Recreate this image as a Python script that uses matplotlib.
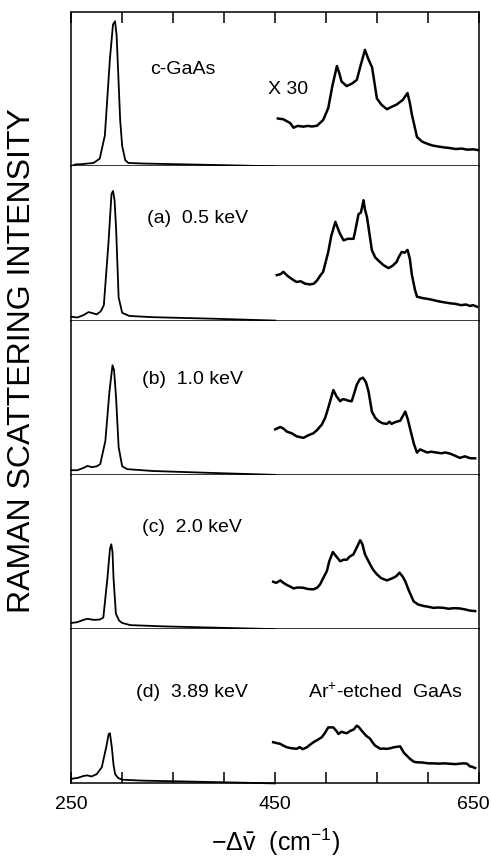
import matplotlib
matplotlib.use('Agg')
import matplotlib.pyplot as plt
from matplotlib.transforms import ScaledTranslation

plt.rcParams['font.family'] = ['Liberation Sans', 'DejaVu Sans']
plt.rcParams['mathtext.fontset'] = 'custom'
plt.rcParams['mathtext.rm'] = 'Liberation Sans'
plt.rcParams['mathtext.it'] = 'Liberation Sans:italic'

# panel labels, top to bottom
labels = ['c-GaAs', '(a)  0.5 keV', '(b)  1.0 keV', '(c)  2.0 keV', '(d)  3.89 keV']

# first-order peak region (250-450 cm-1), normalised to panel height
peak_x = [
    [250, 254, 262, 272, 278, 283, 288, 291, 293, 294.5, 296, 298, 300, 303, 306, 320, 380, 450],
    [250, 256, 262, 267, 270, 275, 279, 282, 286.5, 289.5, 291, 292.5, 294, 296.5, 300, 307, 330, 390, 450],
    [250, 256, 262, 266, 270, 275, 278.5, 283.5, 287.5, 290.5, 292, 294, 296.5, 300, 305, 330, 390, 450],
    [250, 256, 262, 266, 272, 278, 281.5, 285.5, 288, 289.3, 290.5, 291.5, 293.8, 297, 300, 308, 340, 400, 450],
    [250, 256, 262, 265.5, 270, 275, 280, 284.3, 286.8, 288, 289.9, 291.5, 293.1, 296, 300, 320, 380, 450],
]
peak_y = [
    [0, 0.012, 0.015, 0.022, 0.05, 0.2, 0.7, 0.92, 0.94, 0.85, 0.62, 0.3, 0.13, 0.04, 0.022, 0.018, 0.01, 0],
    [0.025, 0.02, 0.035, 0.055, 0.05, 0.04, 0.06, 0.1, 0.5, 0.82, 0.84, 0.78, 0.6, 0.15, 0.05, 0.03, 0.022, 0.012, 0],
    [0.03, 0.03, 0.045, 0.058, 0.05, 0.055, 0.07, 0.22, 0.54, 0.71, 0.68, 0.5, 0.18, 0.055, 0.037, 0.025, 0.012, 0],
    [0.04, 0.045, 0.06, 0.067, 0.06, 0.062, 0.075, 0.33, 0.52, 0.55, 0.5, 0.33, 0.1, 0.055, 0.04, 0.026, 0.018, 0.008, 0],
    [0.03, 0.035, 0.048, 0.052, 0.045, 0.06, 0.105, 0.234, 0.32, 0.325, 0.23, 0.12, 0.06, 0.035, 0.024, 0.018, 0.01, 0],
]

# second-order region (450-650 cm-1), x 30
x30_x = [
    [452.6, 458, 464.7, 468, 472, 477.5, 482, 486, 491, 497, 502, 506, 510.5, 513, 515, 520, 525, 530, 534, 538,
     541, 545, 549.7, 554, 559.5, 564, 569, 575, 579.7, 582, 584, 589, 594, 598.7, 604, 610, 616, 621.6, 627,
     633, 638, 644, 649],
    [451.6, 455, 458, 462, 464.7, 468, 471, 475, 479, 484, 488, 491, 494, 497, 502, 505, 509, 513, 517, 521,
     526.8, 529, 531.7, 534, 536.6, 538, 540, 542, 544.8, 548, 551, 556, 561, 565, 569, 571, 574, 577, 579.7,
     582, 584, 587, 589, 595, 600, 605, 610, 616, 621.6, 627, 632, 637, 641, 644, 647.7],
    [450, 455, 458, 461.5, 466, 471, 474, 477.7, 482, 487.5, 491, 495.8, 499, 502, 507, 510, 513.7, 516, 518.6,
     522, 525, 527.5, 530, 533, 536, 539, 541.5, 544.8, 548, 551, 555, 559.5, 562, 564, 566, 569, 572.5, 575,
     577.5, 580, 582, 586, 589, 592, 595.5, 599, 603, 608.5, 613, 617, 621.6, 626, 631, 636, 641, 646],
    [448, 451, 455, 458, 461.5, 465, 468, 472, 477.7, 482, 487.5, 491, 494, 497, 500.7, 503, 506.5, 510, 513.7,
     517, 520.2, 523, 526.7, 530, 533.3, 535.5, 538, 543, 546, 549.7, 554, 559.5, 563, 566, 569, 571.9, 575,
     577.5, 581, 585.7, 590, 595.5, 600, 605, 610, 615, 620, 625, 631, 636, 641, 646],
    [448, 451, 455, 458, 461.5, 466, 471, 474, 477, 481, 484, 487.5, 491, 495.8, 499, 502, 507, 510, 512, 515,
     517, 520, 523.5, 527, 530, 532, 535, 539, 543, 545.5, 548, 550.5, 553, 556, 559.5, 563, 566, 569, 572.5,
     576, 579, 582, 586, 589, 595, 600, 605, 610, 616, 621.6, 627, 631, 634.6, 638, 641, 643, 646],
]
x30_y = [
    [0.31, 0.305, 0.28, 0.25, 0.262, 0.257, 0.262, 0.258, 0.263, 0.30, 0.377, 0.52, 0.65, 0.6, 0.55, 0.52, 0.535,
     0.56, 0.66, 0.755, 0.7, 0.64, 0.44, 0.40, 0.37, 0.385, 0.40, 0.43, 0.475, 0.41, 0.335, 0.19, 0.16, 0.147,
     0.135, 0.128, 0.122, 0.118, 0.112, 0.115, 0.108, 0.11, 0.105],
    [0.295, 0.3, 0.316, 0.29, 0.277, 0.262, 0.25, 0.255, 0.24, 0.234, 0.24, 0.26, 0.29, 0.316, 0.445, 0.55, 0.64,
     0.57, 0.52, 0.53, 0.53, 0.6, 0.69, 0.7, 0.78, 0.72, 0.67, 0.58, 0.456, 0.41, 0.39, 0.36, 0.34, 0.355, 0.38,
     0.41, 0.445, 0.44, 0.458, 0.4, 0.296, 0.2, 0.155, 0.145, 0.14, 0.133, 0.125, 0.118, 0.112, 0.108, 0.1,
     0.104, 0.095, 0.1, 0.09],
    [0.295, 0.31, 0.3, 0.28, 0.27, 0.25, 0.245, 0.24, 0.255, 0.27, 0.29, 0.327, 0.37, 0.434, 0.55, 0.51, 0.477,
     0.49, 0.488, 0.48, 0.477, 0.53, 0.585, 0.62, 0.63, 0.6, 0.54, 0.41, 0.37, 0.35, 0.335, 0.33, 0.345, 0.33,
     0.337, 0.345, 0.35, 0.38, 0.41, 0.36, 0.305, 0.2, 0.144, 0.165, 0.155, 0.145, 0.15, 0.144, 0.14, 0.145,
     0.137, 0.125, 0.11, 0.12, 0.108, 0.107],
    [0.307, 0.3, 0.316, 0.3, 0.286, 0.275, 0.264, 0.27, 0.268, 0.26, 0.258, 0.268, 0.29, 0.33, 0.377, 0.44, 0.5,
     0.47, 0.44, 0.45, 0.45, 0.47, 0.485, 0.53, 0.576, 0.55, 0.485, 0.42, 0.385, 0.355, 0.33, 0.316, 0.325,
     0.333, 0.345, 0.366, 0.34, 0.31, 0.25, 0.18, 0.16, 0.15, 0.145, 0.138, 0.14, 0.138, 0.132, 0.136, 0.134,
     0.128, 0.12, 0.117],
    [0.267, 0.262, 0.256, 0.245, 0.234, 0.228, 0.224, 0.235, 0.222, 0.234, 0.25, 0.267, 0.28, 0.30, 0.33, 0.363,
     0.363, 0.34, 0.32, 0.335, 0.33, 0.325, 0.34, 0.35, 0.374, 0.365, 0.34, 0.31, 0.29, 0.265, 0.245, 0.235,
     0.224, 0.226, 0.224, 0.228, 0.234, 0.237, 0.24, 0.2, 0.18, 0.16, 0.14, 0.137, 0.135, 0.13, 0.13, 0.128,
     0.13, 0.127, 0.125, 0.128, 0.13, 0.128, 0.11, 0.108, 0.1],
]

# label positions (data coords): x, y
label_pos = [(327, 0.63), (324, 0.66), (319, 0.62), (319, 0.66), (314, 0.59)]

major_ticks = [250, 450, 650]
minor_ticks = [300, 350, 400, 500, 550, 600]

fig, axes = plt.subplots(5, 1, figsize=(4.91, 8.59), dpi=100, sharex=True)
fig.subplots_adjust(left=0.145, right=0.976, top=0.986, bottom=0.088, hspace=0)

for i, ax in enumerate(axes):
    ax.plot(peak_x[i], peak_y[i], color='black', lw=1.3, clip_on=False)
    ax.plot(x30_x[i], x30_y[i], color='black', lw=1.8, clip_on=False)
    ax.set_xlim(250, 650)
    ax.set_ylim(0, 1)
    ax.set_yticks([])
    for s in ax.spines.values():
        s.set_linewidth(1.1)
    if i > 0:
        ax.spines['top'].set_visible(False)
    ax.text(label_pos[i][0], label_pos[i][1], labels[i], fontsize=14, ha='left', va='center')
    ax.set_xticks(major_ticks)
    ax.set_xticks(minor_ticks, minor=True)
    if i == 0:
        ax.tick_params(axis='x', which='both', top=True, bottom=False, labelbottom=False,
                       direction='in', length=8, width=1.1)
    elif i < 4:
        ax.tick_params(axis='x', which='both', top=False, bottom=False, labelbottom=False)
    else:
        ax.tick_params(axis='x', which='both', top=False, bottom=True, direction='in',
                       length=8, width=1.1, labelsize=14, pad=9)

# keep the 650 label inside the figure edge
last = axes[4].get_xticklabels()[-1]
last.set_transform(last.get_transform() + ScaledTranslation(-0.06, 0, fig.dpi_scale_trans))

axes[0].text(443, 0.5, 'X 30', fontsize=14, ha='left', va='center')
axes[4].text(482, 0.59, 'Ar$^{+}$-etched  GaAs', fontsize=14, ha='left', va='center')

axes[4].set_xlabel(r'$-\Delta\bar{\mathrm{v}}$  (cm$^{-1}$)', fontsize=18, labelpad=10)
fig.text(0.045, 0.58, 'RAMAN SCATTERING INTENSITY', rotation=90, fontsize=23,
         ha='center', va='center')

fig.savefig('out.png', dpi=100)
